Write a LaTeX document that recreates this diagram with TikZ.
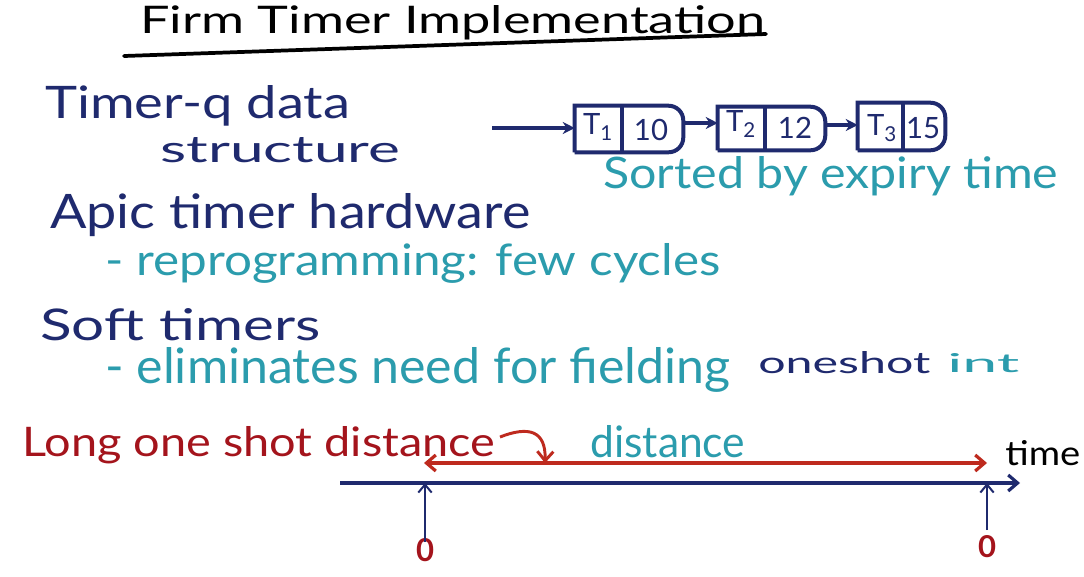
\documentclass[tikz,border=0pt]{standalone}
\usepackage{fontspec}
\setmainfont{Lato}
\usepackage{graphicx}
\usetikzlibrary{arrows.meta}
\definecolor{navy}{HTML}{1F2A6E}
\definecolor{teal}{HTML}{2B9CAD}
\definecolor{dred}{HTML}{A4141C}
\definecolor{rarrow}{HTML}{BE2A1E}
\newdimen\pxu \pxu=0.75pt
\newcommand{\hw}[3]{\resizebox{#1\pxu}{#2\pxu}{#3}}
\tikzset{
  hw/.style={inner sep=0pt, anchor=base west},
  cell/.style={inner sep=0pt, minimum height=46\pxu},
  outline/.style={navy, line width=3pt},
  cellarrow/.style={navy, line width=2.4pt, -{Stealth[length=9pt,width=9pt]}},
  celltext/.style={navy, inner sep=0pt, font=\fontsize{22}{22}\selectfont},
}
\begin{document}
\begin{tikzpicture}[x=0.75pt,y=-0.75pt]
\useasboundingbox (0,0) rectangle (1084,576);
\fill[white] (0,0) rectangle (1084,576);

% title
\node[hw, text=black] (title) at (140,33) {\hw{625}{28}{Firm Timer Implementation}};
\coordinate (ulA) at (124,56);
\coordinate (ulB) at (766,34);
\draw[black, line width=2.8pt, line cap=round] (ulA) -- (ulB);

% left texts
\node[hw, text=navy] (tq) at (45,118) {\hw{305}{33}{Timer-q data}};
\node[hw, text=navy] (st) at (160,162) {\hw{240}{25}{structure}};
\node[hw, text=navy] (apic) at (50,228) {\hw{480}{35}{Apic timer hardware}};
\node[hw, text=teal] (repro) at (105,275) {\hw{615}{32}{- reprogramming: few cycles}};
\node[hw, text=navy] (soft) at (40,340) {\hw{280}{32}{Soft timers}};
\node[hw, text=teal] (elim) at (105,383) {\hw{625}{36}{- eliminates need for fielding}};
\node[hw, text=navy] (oneshot) at (758,373) {\hw{172}{22}{oneshot}};
\node[hw, text=teal] (int) at (947,372) {\hw{72}{19}{int}};

% linked list
\node[cell, minimum width=108\pxu] (b1) at (629,129) {};
\node[cell, minimum width=107\pxu, minimum height=43\pxu] (b2) at (771.5,128.5) {};
\node[cell, minimum width=87\pxu, minimum height=47\pxu] (b3) at (901.5,126.5) {};
\foreach \b/\d in {b1/622, b2/765, b3/903}{
  \draw[outline] (\b.south west) -- (\b.north west) [rounded corners=11pt] -- (\b.north east) -- (\b.south east) -- (\b.south west);
  \draw[outline] (\d,0 |- \b.north) -- (\d,0 |- \b.south);
}
\node[celltext] (t1) at (598,127) {T\textsubscript{1}};
\node[celltext] (v1) at (651,130) {10};
\node[celltext] (t2) at (741,124) {T\textsubscript{2}};
\node[celltext] (v2) at (795,128) {12};
\node[celltext] (t3) at (882,128) {T\textsubscript{3}};
\node[celltext] (v3) at (923,128) {15};
\coordinate (head) at (492,128);
\draw[cellarrow] (head) -- (head -| b1.west);
\draw[cellarrow] (b1.east |- 0,123) -- (b2.west |- 0,123);
\draw[cellarrow] (b2.east |- 0,125) -- (b3.west |- 0,125);
\node[hw, text=teal] (sorted) at (603,188) {\hw{455}{32}{Sorted by expiry time}};

% timeline
\node[hw, text=dred] (long) at (22,456) {\hw{473}{30}{Long one shot distance}};
\node[hw, text=teal] (dist) at (590,457) {\hw{155}{32}{distance}};
\node[hw, text=black] (time) at (1005,465) {\hw{75}{25}{time}};
\coordinate (axA) at (340,483);
\coordinate (axB) at (1020,483);
\draw[navy, line width=2.4pt, -{Straight Barb[length=7pt,width=12pt]}] (axA) -- (axB);
\coordinate (dA) at (424,463);
\coordinate (dB) at (987,463);
\draw[rarrow, line width=2.4pt, {Straight Barb[length=7pt,width=12pt]}-{Straight Barb[length=7pt,width=12pt]}] (dA) -- (dB);
\coordinate (cA) at (500,437);
\coordinate (cB) at (545,463);
\draw[rarrow, line width=2.2pt, -{Straight Barb[length=7pt,width=12pt]}] (cA) .. controls (528,426) and (546,430) .. (cB);
\node[hw, text=dred, anchor=base] (z1) at (425,561) {\hw{18}{23}{\bfseries 0}};
\node[hw, text=dred, anchor=base] (z2) at (987,557) {\hw{18}{22}{\bfseries 0}};
\coordinate (u1) at (425,542);
\coordinate (u2) at (987,530);
\draw[navy, line width=1.5pt, -{Straight Barb[length=6pt,width=10pt]}] (u1) -- (u1 |- axA);
\draw[navy, line width=1.5pt, -{Straight Barb[length=6pt,width=10pt]}] (u2) -- (u2 |- axA);
\end{tikzpicture}
\end{document}
